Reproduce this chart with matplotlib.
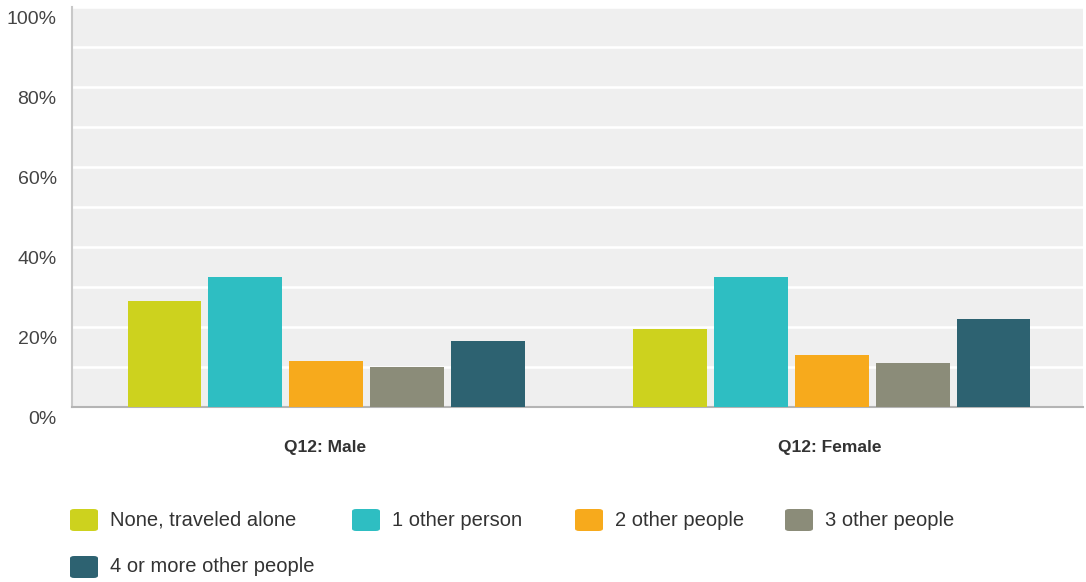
import matplotlib.pyplot as plt
import matplotlib.transforms as mtransforms
import numpy as np
from matplotlib.patches import FancyBboxPatch

# data
groups = ['Q12: Male', 'Q12: Female']
series = ['None, traveled alone', '1 other person', '2 other people',
          '3 other people', '4 or more other people']
values = {
    'None, traveled alone': [26.6, 19.5],
    '1 other person': [32.6, 32.6],
    '2 other people': [11.5, 13.0],
    '3 other people': [9.9, 10.9],
    '4 or more other people': [16.6, 22.0],
}
colors = ['#cdd21e', '#2ebec2', '#f7aa1c', '#8b8c79', '#2d6271']
yticks = [0, 20, 40, 60, 80, 100]

plt.rcParams['font.family'] = ['Liberation Sans', 'DejaVu Sans']

fig = plt.figure(figsize=(10.86, 5.82), dpi=100)
ax = fig.add_axes([72 / 1086, 1 - 407 / 582, 1011 / 1086, 400 / 582])
ax.set_facecolor('#efefef')

x = np.arange(len(groups))
step = 0.16
width = 0.146
for i, name in enumerate(series):
    ax.bar(x + (i - 2) * step + 0.003, values[name], width, color=colors[i], zorder=3)

ax.set_xlim(-0.5, 1.5)
ax.set_ylim(0, 100)
ax.set_yticks(yticks)
ax.set_yticklabels(['%d%%' % t for t in yticks], fontsize=14, color='#444444')
ax.set_yticks(np.arange(0, 101, 10), minor=True)
ax.grid(axis='y', which='both', color='white', linewidth=1.8, zorder=1)
ax.tick_params(axis='y', which='both', length=0, pad=11)
# labels in the original sit a bit below their grid lines
shift = mtransforms.ScaledTranslation(0, -0.1, fig.dpi_scale_trans)
for lab in ax.get_yticklabels():
    lab.set_transform(lab.get_transform() + shift)
ax.set_xticks(x)
ax.set_xticklabels(groups, fontsize=12.5, fontweight='bold', color='#333333')
ax.tick_params(axis='x', length=0, pad=24)
for s in ['top', 'right']:
    ax.spines[s].set_visible(False)
ax.spines['left'].set_color('#c8c8c8')
ax.spines['bottom'].set_color('#b4b4b4')
ax.spines['left'].set_linewidth(1.5)
ax.spines['bottom'].set_linewidth(1.5)

# legend, laid out by hand like the original
legend_pos = [(70, 520), (352, 520), (575, 520), (785, 520), (70, 567)]
W, H = 1086, 582
for i, name in enumerate(series):
    px, py = legend_pos[i]
    patch = FancyBboxPatch((px / W, 1 - (py + 11) / H), 28 / W, 22 / H,
                           boxstyle='round,pad=0,rounding_size=0.004',
                           transform=fig.transFigure, facecolor=colors[i],
                           edgecolor='none')
    fig.add_artist(patch)
    fig.text((px + 40) / W, 1 - py / H, name, fontsize=14.5, color='#333333',
             va='center', ha='left')

fig.savefig('out.png', dpi=100)
